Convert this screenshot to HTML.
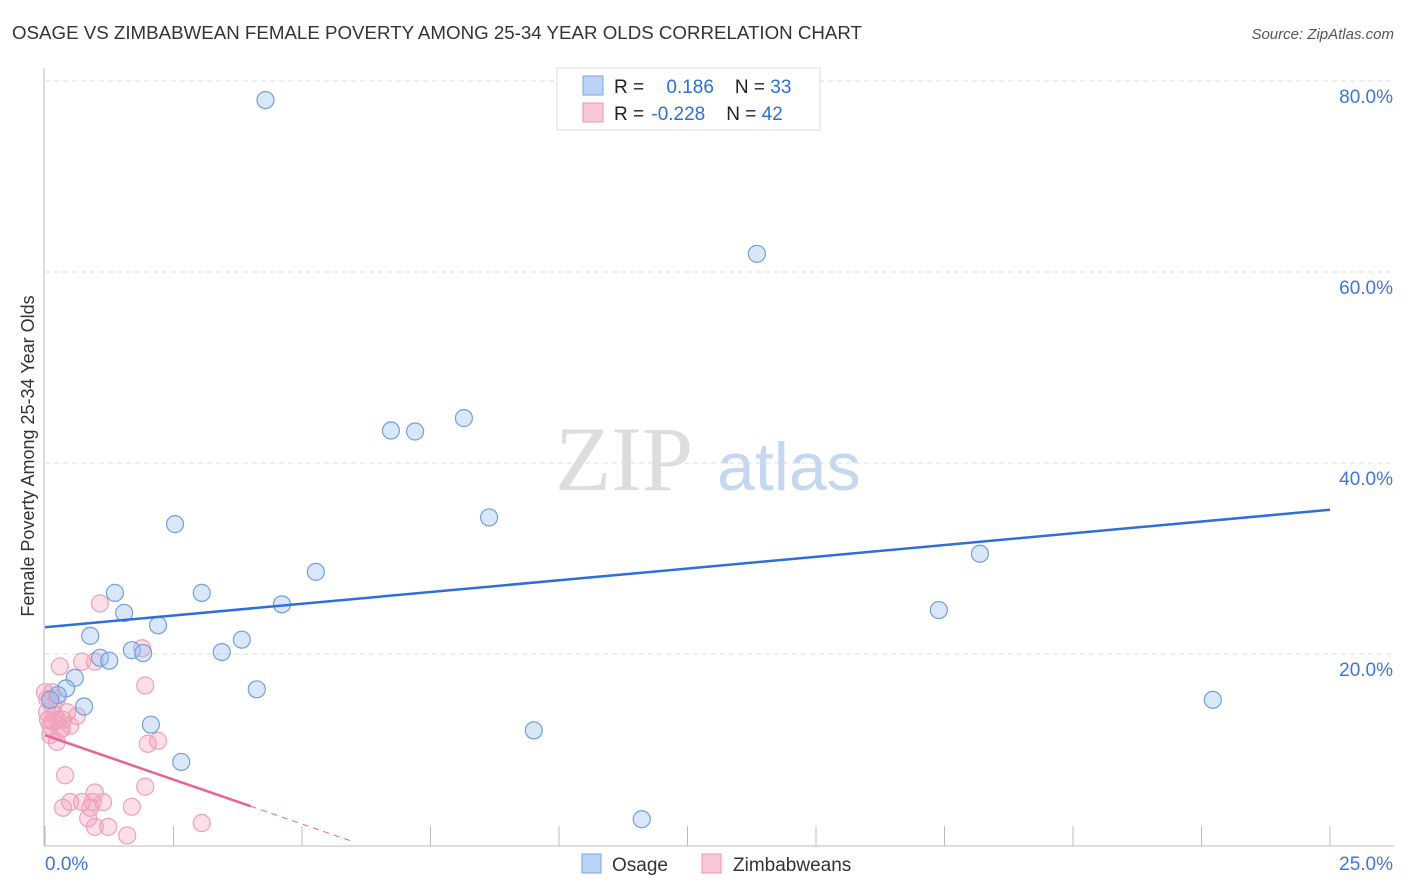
<!DOCTYPE html>
<html><head><meta charset="utf-8"><style>
body{margin:0;background:#fff;font-family:"Liberation Sans",sans-serif;}
#wrap{position:relative;width:1406px;height:892px;overflow:hidden}
</style></head><body>
<div id="wrap">
<svg id="svg" width="1406" height="892" xmlns="http://www.w3.org/2000/svg">
<text x="12" y="39" font-size="18" fill="#333" textLength="850" lengthAdjust="spacingAndGlyphs">OSAGE VS ZIMBABWEAN FEMALE POVERTY AMONG 25-34 YEAR OLDS CORRELATION CHART</text>
<text x="1394" y="39" font-size="15" fill="#555" font-style="italic" text-anchor="end">Source: ZipAtlas.com</text>
<text x="34" y="456" font-size="18" fill="#333" text-anchor="middle" transform="rotate(-90 34 456)">Female Poverty Among 25-34 Year Olds</text>
<text x="555" y="490" font-size="92" fill="#ddd" font-family="Liberation Serif,serif">ZIP</text>
<text x="717" y="490" font-size="68" fill="#c5d8f0">atlas</text>
<g id="grid"></g><g id="axes"></g><g id="pts"></g><g id="lines"></g>
<g>
<rect x="557" y="68" width="263" height="62" fill="#fff" stroke="#ddd"/>
<rect x="583" y="76" width="20" height="19" fill="#bcd4f4" stroke="#7aa6e6"/>
<rect x="583" y="103" width="20" height="19" fill="#f9c8d8" stroke="#ec94b2"/>
<text x="614" y="93" font-size="19" fill="#222">R = <tspan fill="#2e6fd0" dx="17">0.186</tspan><tspan fill="#222" dx="21">N = </tspan><tspan fill="#2e6fd0">33</tspan></text>
<text x="614" y="120" font-size="19" fill="#222">R = <tspan fill="#2e6fd0" dx="2">-0.228</tspan><tspan fill="#222" dx="21">N = </tspan><tspan fill="#2e6fd0">42</tspan></text>
</g>
<g>
<rect x="582" y="854" width="19" height="19" fill="#bcd4f4" stroke="#7aa6e6"/>
<text x="612" y="871" font-size="19" fill="#333">Osage</text>
<rect x="702" y="854" width="19" height="19" fill="#f9c8d8" stroke="#ec94b2"/>
<text x="733" y="871" font-size="19" fill="#333">Zimbabweans</text>
</g>
</svg></div>
<script>
const yTicks=[20,40,60,80];
const xTickCount=[0,2.5,5,7.5,10,12.5,15,17.5,20,22.5,25];
const osageX=[4.29,13.85,6.73,7.2,8.15,8.64,2.53,18.19,5.27,1.36,3.05,4.61,17.39,1.54,2.2,0.88,3.83,1.69,1.91,3.44,1.07,1.25,0.58,0.41,4.12,0.25,0.76,22.72,2.06,9.51,2.65,11.61,0.1];
const osageY=[78.0,61.9,43.4,43.3,44.7,34.3,33.6,30.5,28.6,26.4,26.4,25.2,24.6,24.3,23.0,21.9,21.5,20.4,20.1,20.2,19.6,19.3,17.5,16.4,16.3,15.7,14.5,15.2,12.6,12.0,8.7,2.7,15.2];
const zimX=[1.07,1.89,0.72,0.97,0.29,1.95,0.14,0.23,0.43,0.62,0.16,0.49,0.29,0.1,0.23,2.0,2.2,0.39,1.95,0.49,0.35,0.72,0.93,1.13,0.97,0.88,0.84,0.97,1.23,1.69,1.6,3.05,0.04,0.04,0.06,0.16,0.25,0.35,0.0,0.1,0.19,0.33];
const zimY=[25.3,20.6,19.2,19.2,18.7,16.7,16.0,15.3,13.9,13.5,12.9,12.5,12.0,12.5,10.8,10.6,10.9,7.3,6.1,4.5,3.9,4.5,4.5,4.5,5.5,3.9,2.8,1.9,1.9,4.0,1.0,2.3,13.9,15.3,13.1,14.6,13.1,13.1,16.0,11.5,13.6,12.2];
const trendOsage=[22.8,35.1];
const trendZim=[11.5,-1.86];
const X=v=>45+v*51.4, Y=v=>845-v*9.55;
const NS='http://www.w3.org/2000/svg';
function mk(t,a,p){const e=document.createElementNS(NS,t);for(const k in a)e.setAttribute(k,a[k]);document.getElementById(p).appendChild(e);return e;}
yTicks.forEach(t=>{
 const l=mk('line',{x1:45,x2:1394,y1:Y(t),y2:Y(t),stroke:'#ddd','stroke-dasharray':'5,4'},'grid');
 
 
 const tx=mk('text',{x:1393,y:Y(t)+22,'font-size':19,fill:'#3b78d8','text-anchor':'end'},'axes');
 tx.textContent=t.toFixed(1)+'%';
 
 
});
const ga=mk('line',{x1:44,x2:44,y1:68,y2:846,stroke:'#bbb'},'axes');


const gx=mk('line',{x1:44,x2:1394,y1:846,y2:846,stroke:'#bbb'},'axes');


xTickCount.forEach(t=>{
 const l=mk('line',{x1:X(t),x2:X(t),y1:826,y2:846,stroke:'#bbb'},'axes');
 
 
});
[[0,'0.0%','start',45],[25,'25.0%','end',1393]].forEach(([v,s,a,x])=>{
 const t=mk('text',{x:x,y:870,'font-size':19,fill:'#3b78d8','text-anchor':a},'axes');t.textContent=s;
 
 
});
zimX.forEach((x,i)=>{
 const c=mk('circle',{cx:X(x),cy:Y(zimY[i]),r:8.5,fill:'rgba(244,160,188,0.35)',stroke:'#eea0bb','stroke-width':1.2},'pts');
 
 
});
osageX.forEach((x,i)=>{
 const c=mk('circle',{cx:X(x),cy:Y(osageY[i]),r:8.5,fill:'rgba(160,196,240,0.4)',stroke:'#6fa0e0','stroke-width':1.2},'pts');
 
 
});
const bl=mk('line',{x1:X(0),y1:Y(trendOsage[0]),x2:X(25),y2:Y(trendOsage[1]),stroke:'#2f6fd6','stroke-width':2.5},'lines');


const zy=x=>trendZim[0]+trendZim[1]*x;
const pl=mk('line',{x1:X(0),y1:Y(zy(0)),x2:X(4),y2:Y(zy(4)),stroke:'#e8648f','stroke-width':2.5},'lines');


const pd=mk('line',{x1:X(4),y1:Y(zy(4)),x2:X(6.0),y2:Y(zy(6.0)),stroke:'#e8648f','stroke-width':1,'stroke-dasharray':'6,5'},'lines');


</script></body></html>
